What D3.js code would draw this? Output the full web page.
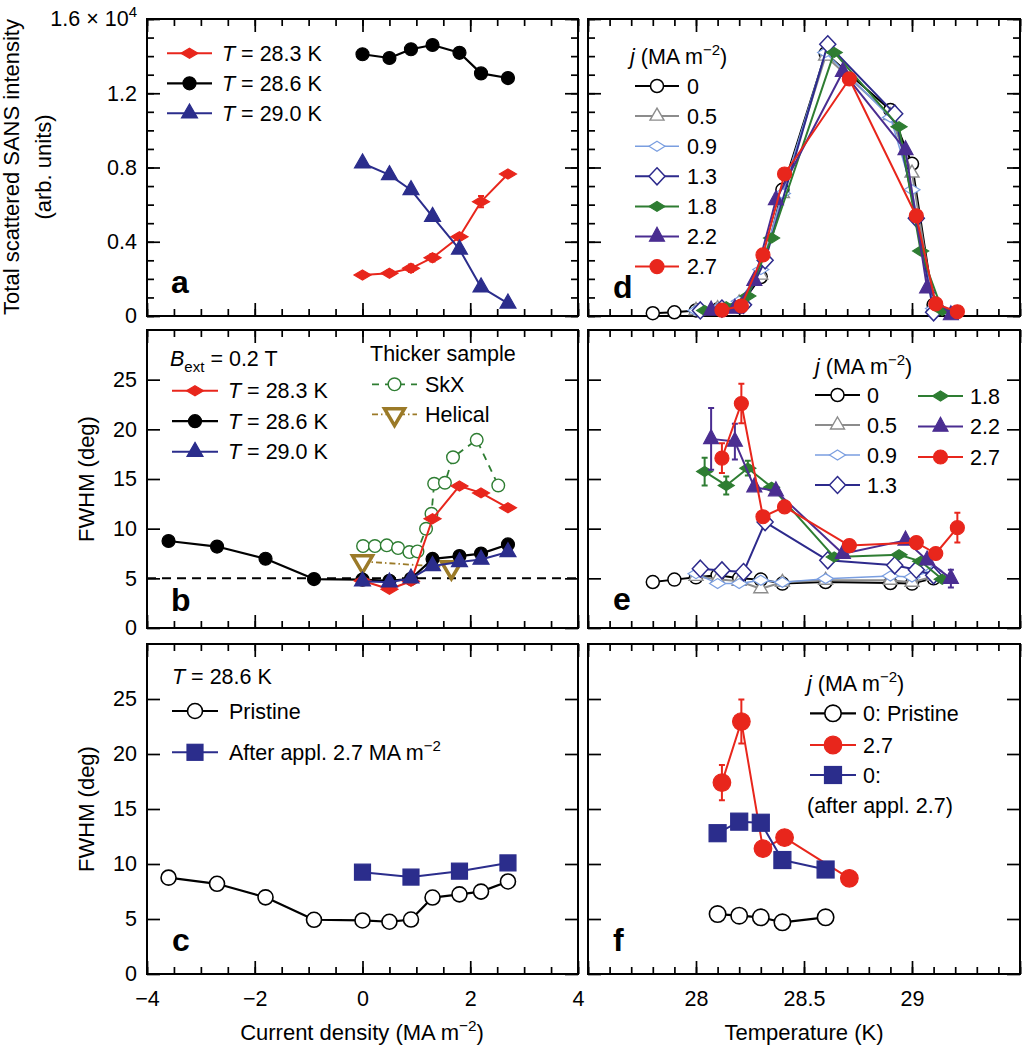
<!DOCTYPE html>
<html><head><meta charset="utf-8">
<script src="https://cdn.jsdelivr.net/npm/d3@7"></script>
<style>
body{margin:0;background:#fff;}
svg{font-family:"Liberation Sans", Arial, Helvetica, sans-serif;}
</style></head><body>
<svg id="chart" width="1022" height="1050"></svg>
<script>
// ================= DATA =================
// Panel a: total scattered SANS intensity (x 10^4) vs current density
const jA = [0, 0.5, 0.9, 1.3, 1.8, 2.2, 2.7];
const int283 = [0.221, 0.230, 0.257, 0.314, 0.427, 0.616, 0.765];
const int283Err = [0.01, 0.015, 0.02, 0.02, 0.015, 0.03, 0.01];
const int286 = [1.41, 1.39, 1.437, 1.46, 1.418, 1.307, 1.282];
const int290 = [0.823, 0.760, 0.679, 0.535, 0.359, 0.155, 0.068];

// Panel b: FWHM vs current density
const jB286 = [-3.6, -2.7, -1.8, -0.9, 0, 0.5, 0.9, 1.3, 1.8, 2.2, 2.7];
const fwhm286 = [8.76, 8.2, 6.97, 4.93, 4.87, 4.75, 4.95, 6.95, 7.24, 7.49, 8.41];
const fwhm283 = [4.75, 3.9, 4.7, 11.0, 14.3, 13.6, 12.1];
const fwhm290 = [4.7, 4.6, 5.0, 6.25, 6.65, 6.9, 7.65];
const jSkX = [0.01, 0.23, 0.45, 0.66, 0.87, 1.02, 1.18, 1.28, 1.33, 1.53, 1.68, 2.12, 2.52];
const fwhmSkX = [8.25, 8.25, 8.32, 8.05, 7.64, 7.71, 9.99, 11.5, 14.52, 14.62, 17.19, 18.94, 14.35];
const jHelical = [0, 1.65];
const fwhmHelical = [6.7, 6.1];
const fwhmRef = 5;

// Panel c
const jAfter = [0, 0.9, 1.8, 2.7];
const fwhmAfter = [9.26, 8.81, 9.35, 10.1];

// Panels d, e: per current density j (MA m^-2)
const tJ0 = [27.8, 27.9, 28.0, 28.1, 28.2, 28.3, 28.4, 28.6, 28.9, 29.0, 29.1];
const intJ0 = [0.015, 0.02, 0.03, 0.035, 0.05, 0.21, 0.68, 1.415, 1.11, 0.82, 0.06];
const fwhmJ0 = [4.63, 4.87, 5.1, 5.3, 5.0, 4.87, 4.47, 4.63, 4.53, 4.47, 5.0];

const tJ05 = [28.0, 28.1, 28.2, 28.3, 28.4, 28.6, 28.9, 29.0, 29.1];
const intJ05 = [0.03, 0.04, 0.07, 0.22, 0.66, 1.40, 1.08, 0.77, 0.05];
const fwhmJ05 = [5.2, 4.9, 4.7, 3.95, 4.6, 4.8, 4.8, 4.6, 5.2];

const tJ09 = [28.0, 28.1, 28.2, 28.3, 28.4, 28.6, 28.9, 29.0, 29.1];
const intJ09 = [0.03, 0.04, 0.08, 0.25, 0.66, 1.42, 1.07, 0.68, 0.04];
const fwhmJ09 = [5.47, 4.47, 4.47, 4.8, 4.6, 4.97, 5.23, 5.13, 5.8];

const tJ13 = [28.02, 28.12, 28.22, 28.32, 28.61, 28.92, 29.02, 29.1];
const intJ13 = [0.03, 0.04, 0.06, 0.30, 1.464, 1.09, 0.526, 0.02];
const fwhmJ13 = [5.97, 5.80, 5.63, 10.66, 6.81, 6.31, 5.87, 5.3];

const tJ18 = [28.04, 28.14, 28.24, 28.35, 28.64, 28.94, 29.04, 29.14];
const intJ18 = [0.03, 0.05, 0.108, 0.42, 1.42, 1.02, 0.35, 0.03];
const fwhmJ18 = [15.75, 14.35, 16.09, 14.18, 7.14, 7.38, 6.71, 4.9];
const fwhmJ18Err = [1.4, 0.9, 0.75, 0, 0, 0, 0, 0];

const tJ22 = [28.07, 28.18, 28.27, 28.37, 28.68, 28.97, 29.07, 29.18];
const intJ22 = [0.03, 0.04, 0.19, 0.625, 1.316, 0.894, 0.149, 0.005];
const fwhmJ22 = [19.04, 18.77, 14.18, 13.78, 7.48, 8.82, 6.81, 4.97];
const fwhmJ22Err = [3.1, 1.8, 0, 0, 0, 0, 0, 0.9];

const tJ27 = [28.12, 28.21, 28.31, 28.41, 28.71, 29.02, 29.11, 29.21];
const intJ27 = [0.032, 0.054, 0.329, 0.765, 1.277, 0.539, 0.065, 0.023];
const fwhmJ27 = [17.1, 22.6, 11.2, 12.2, 8.3, 8.6, 7.5, 10.1];
const fwhmJ27Err = [1.5, 2.0, 0, 0, 0, 0, 0, 1.5];

// Panel f
const tF0 = [28.1, 28.2, 28.3, 28.4, 28.6];
const fwhmF0 = [5.45, 5.3, 5.15, 4.7, 5.15];
const tF27 = [28.12, 28.21, 28.31, 28.41, 28.71];
const fwhmF27 = [17.4, 22.95, 11.4, 12.4, 8.7];
const fwhmF27Err = [1.6, 2.0, 0, 0, 0];
const tFAfter = [28.1, 28.2, 28.3, 28.4, 28.6];
const fwhmFAfter = [12.8, 13.85, 13.75, 10.36, 9.5];
const fwhmFAfterErr = [0.6, 0, 0, 0, 0];

// Ticks
const xJMajor = [-4, -2, 0, 2, 4];
const xTMajor = [27.5, 28, 28.5, 29, 29.5];
const xTLabeled = [28, 28.5, 29];
const yAMajor = [0, 0.4, 0.8, 1.2, 1.6];
const yFMajor = [0, 5, 10, 15, 20, 25];
const jLegend = ["0", "0.5", "0.9", "1.3", "1.8", "2.2", "2.7"];
const tempLegend = ["28.3", "28.6", "29.0"];

// ================= LAYOUT =================
const FONT = '"Liberation Sans", Arial, Helvetica, sans-serif';
const TICKFS = 21.5, LEGFS = 21.5, TITLEFS = 22;
const svg = d3.select("#chart");
const xJ = d3.scaleLinear().domain([-4, 4]).range([147, 578]);
const xT = d3.scaleLinear().domain([27.5, 29.5]).range([588, 1020]);
const yA = d3.scaleLinear().domain([0, 1.6]).range([316, 19]);
const yB = d3.scaleLinear().domain([0, 30]).range([628, 330]);
const yC = d3.scaleLinear().domain([0, 30]).range([974, 644]);

const C = {red: "#e8261c", black: "#000", navy: "#2b2d8c", purple: "#4a2d91", green: "#2e7d32",
  gray: "#8c8c8c", lblue: "#7a9ee0", brown: "#9b7a28", nav13: "#2d2a8c"};

const fmtNum = d3.format("");

function rich(t, segs, fs) {
  let shift = 0;
  segs.forEach(s => {
    const target = s.sup ? -0.42 * fs : s.sub ? 0.3 * fs : 0;
    const ts = t.append("tspan").text(s.t);
    if (target !== shift) { ts.attr("dy", target - shift); shift = target; }
    if (s.sup || s.sub) ts.attr("font-size", fs * 0.7);
    if (s.i) ts.attr("font-style", "italic");
  });
  return t;
}

function frame(x, y, o) {
  const g = svg.append("g");
  const [xa, xb] = x.range(), [yb, ya] = y.range();
  const style = sel => {
    sel.select(".domain").remove();
    sel.selectAll("line").attr("stroke", "#000").attr("stroke-width", 1.7);
    sel.attr("font-family", FONT).attr("font-size", TICKFS);
    sel.selectAll("text").attr("fill", "#000");
  };
  const mk = (axis, tr) => g.append("g").attr("transform", tr).call(axis).call(style);
  mk(d3.axisBottom(x).tickValues(o.xMinor).tickSizeInner(-7).tickSizeOuter(0).tickFormat(""), `translate(0,${yb})`);
  mk(d3.axisTop(x).tickValues(o.xMinor).tickSizeInner(-7).tickSizeOuter(0).tickFormat(""), `translate(0,${ya})`);
  mk(d3.axisBottom(x).tickValues(o.xMajor).tickSizeInner(-13).tickSizeOuter(0).tickPadding(17)
    .tickFormat(o.xFmt || ""), `translate(0,${yb})`);
  mk(d3.axisTop(x).tickValues(o.xMajor).tickSizeInner(-13).tickSizeOuter(0).tickFormat(""), `translate(0,${ya})`);
  if (o.yMinor) {
    mk(d3.axisLeft(y).tickValues(o.yMinor).tickSizeInner(-7).tickSizeOuter(0).tickFormat(""), `translate(${xa},0)`);
    mk(d3.axisRight(y).tickValues(o.yMinor).tickSizeInner(-7).tickSizeOuter(0).tickFormat(""), `translate(${xb},0)`);
  }
  const yl = mk(d3.axisLeft(y).tickValues(o.yMajor).tickSizeInner(-13).tickSizeOuter(0).tickPadding(10)
    .tickFormat(o.yFmt || ""), `translate(${xa},0)`);
  mk(d3.axisRight(y).tickValues(o.yMajor).tickSizeInner(-13).tickSizeOuter(0).tickFormat(""), `translate(${xb},0)`);
  g.append("rect").attr("x", xa).attr("y", ya).attr("width", xb - xa).attr("height", yb - ya)
    .attr("fill", "none").attr("stroke", "#000").attr("stroke-width", 2);
  return yl;
}

function marker(g, st, cx, cy) {
  const m = st.m;
  const fill = m.fill, stroke = m.stroke || st.color, sw = m.sw || 1.2;
  let el;
  if (m.shape === "circle") {
    el = g.append("circle").attr("cx", cx).attr("cy", cy).attr("r", m.r);
  } else if (m.shape === "square") {
    el = g.append("rect").attr("x", cx - m.w / 2).attr("y", cy - m.w / 2).attr("width", m.w).attr("height", m.w);
  } else {
    let d;
    const w = m.w, h = m.h;
    if (m.shape === "diamond") d = `M${cx},${cy - h / 2}L${cx + w / 2},${cy}L${cx},${cy + h / 2}L${cx - w / 2},${cy}Z`;
    else if (m.shape === "tri") d = `M${cx},${cy - 2 * h / 3}L${cx + w / 2},${cy + h / 3}L${cx - w / 2},${cy + h / 3}Z`;
    else d = `M${cx},${cy + 2 * h / 3}L${cx + w / 2},${cy - h / 3}L${cx - w / 2},${cy - h / 3}Z`;
    el = g.append("path").attr("d", d);
  }
  el.attr("fill", fill).attr("stroke", stroke).attr("stroke-width", sw).attr("stroke-linejoin", "miter");
}

function series(x, y, xs, ys, st, errs) {
  const g = svg.append("g");
  const pts = xs.map((v, i) => ({x: v, y: ys[i], e: errs ? errs[i] : 0}));
  g.append("path").datum(pts).attr("d", d3.line().x(d => x(d.x)).y(d => y(d.y)))
    .attr("fill", "none").attr("stroke", st.color).attr("stroke-width", st.lw || 2)
    .attr("stroke-dasharray", st.dash || null).attr("stroke-linejoin", "round");
  pts.filter(d => d.e > 0).forEach(d => {
    const cx = x(d.x), y1 = y(d.y + d.e), y2 = y(d.y - d.e);
    g.append("path").attr("d", `M${cx},${y1}V${y2}M${cx - 3},${y1}H${cx + 3}M${cx - 3},${y2}H${cx + 3}`)
      .attr("stroke", st.color).attr("stroke-width", 2).attr("fill", "none");
  });
  pts.forEach(d => marker(g, st, x(d.x), y(d.y)));
}

function legendRow(x1, x2, yc, tx, st, segs) {
  const g = svg.append("g");
  g.append("line").attr("x1", x1).attr("x2", x2).attr("y1", yc).attr("y2", yc)
    .attr("stroke", st.color).attr("stroke-width", st.lw || 2).attr("stroke-dasharray", st.dash || null);
  marker(g, st, (x1 + x2) / 2, yc);
  const t = g.append("text").attr("x", tx).attr("y", yc + 7.7).attr("font-size", LEGFS).attr("fill", "#000");
  rich(t, segs, LEGFS);
}

function label(x, y, segs, fs, extra) {
  const t = svg.append("text").attr("x", x).attr("y", y).attr("font-size", fs).attr("fill", "#000");
  if (extra) extra(t);
  return rich(t, segs, fs);
}

// ================= STYLES =================
const sRed283 = {color: C.red, lw: 2, m: {shape: "diamond", w: 17, h: 10, fill: C.red}};
const sBlk286 = {color: C.black, lw: 2.2, m: {shape: "circle", r: 6.5, fill: C.black}};
const sBlu290 = {color: C.navy, lw: 2, m: {shape: "tri", w: 16, h: 14, fill: C.navy}};
const sSkX = {color: C.green, lw: 1.8, dash: "7,6", m: {shape: "circle", r: 6.3, fill: "#fff", sw: 1.4}};
const sHel = {color: C.brown, lw: 1.8, dash: "6,3,1.5,3", m: {shape: "tridown", w: 20, h: 17, fill: "#fff", sw: 3.5}};
const sPrist = {color: C.black, lw: 2.2, m: {shape: "circle", r: 7.5, fill: "#fff", sw: 1.6}};
const sAfter = {color: C.navy, lw: 2, m: {shape: "square", w: 16, fill: C.navy}};
const sJ = [
  {color: C.black, lw: 2, m: {shape: "circle", r: 6.5, fill: "#fff", sw: 1.5}},
  {color: C.gray, lw: 2, m: {shape: "tri", w: 14, h: 12, fill: "#fff", sw: 1.4}},
  {color: C.lblue, lw: 1.5, m: {shape: "diamond", w: 16, h: 10, fill: "#fff", sw: 1.2}},
  {color: C.nav13, lw: 2, m: {shape: "diamond", w: 16, h: 17, fill: "#fff", sw: 1.5}},
  {color: C.green, lw: 2, m: {shape: "diamond", w: 16, h: 10, fill: C.green}},
  {color: C.purple, lw: 2, m: {shape: "tri", w: 15, h: 14, fill: C.purple}},
  {color: C.red, lw: 2, m: {shape: "circle", r: 7, fill: C.red, stroke: C.red}}
];
const sF0 = {color: C.black, lw: 2.2, m: {shape: "circle", r: 8.2, fill: "#fff", sw: 1.6}};
const sF27 = {color: C.red, lw: 2, m: {shape: "circle", r: 8.8, fill: C.red}};
const sFAfter = {color: C.navy, lw: 2, m: {shape: "square", w: 17, fill: C.navy}};

// ================= FRAMES =================
const xJMinor = d3.range(-4, 4.01, 0.5);
const xTMinor = d3.range(0, 21).map(i => 27.5 + i * 0.1);
const yAMinor = d3.range(0, 17).map(i => i * 0.1);
const jFmt = d => fmtNum(d);
const tFmt = d => xTLabeled.includes(d) ? fmtNum(d) : "";

const ayl = frame(xJ, yA, {xMajor: xJMajor, xMinor: xJMinor, yMajor: yAMajor, yMinor: yAMinor,
  yFmt: d => d === 0 ? "0" : d3.format(".1f")(d)});
ayl.selectAll(".tick text").filter(d => d === 1.6).each(function () {
  const t = d3.select(this).text(null);
  rich(t, [{t: "1.6 × 10"}, {t: "4", sup: true}], TICKFS);
});
frame(xJ, yB, {xMajor: xJMajor, xMinor: xJMinor, yMajor: yFMajor, yFmt: d => fmtNum(d)});
frame(xJ, yC, {xMajor: xJMajor, xMinor: xJMinor, yMajor: yFMajor, yFmt: d => fmtNum(d), xFmt: jFmt});
frame(xT, yA, {xMajor: xTMajor, xMinor: xTMinor, yMajor: yAMajor, yMinor: yAMinor});
frame(xT, yB, {xMajor: xTMajor, xMinor: xTMinor, yMajor: yFMajor});
frame(xT, yC, {xMajor: xTMajor, xMinor: xTMinor, yMajor: yFMajor, xFmt: tFmt});

// ================= PANEL a =================
series(xJ, yA, jA, int283, sRed283, int283Err);
series(xJ, yA, jA, int286, sBlk286);
series(xJ, yA, jA, int290, sBlu290);
[sRed283, sBlk286, sBlu290].forEach((st, i) =>
  legendRow(167, 212, 53.3 + 30 * i, 222, st, [{t: "T", i: true}, {t: " = " + tempLegend[i] + " K"}]));

// ================= PANEL b =================
svg.append("line").attr("x1", xJ(-4)).attr("x2", xJ(4)).attr("y1", yB(fwhmRef)).attr("y2", yB(fwhmRef))
  .attr("stroke", "#000").attr("stroke-width", 2).attr("stroke-dasharray", "9,6");
series(xJ, yB, jSkX, fwhmSkX, sSkX);
series(xJ, yB, jHelical, fwhmHelical, sHel);
series(xJ, yB, jB286, fwhm286, sBlk286);
series(xJ, yB, jA, fwhm283, sRed283);
series(xJ, yB, jA, fwhm290, sBlu290);
label(170, 366, [{t: "B", i: true}, {t: "ext", sub: true}, {t: " = 0.2 T"}], LEGFS);
[sRed283, sBlk286, sBlu290].forEach((st, i) =>
  legendRow(172, 218, 390.7 + 30.5 * i, 228, st, [{t: "T", i: true}, {t: " = " + tempLegend[i] + " K"}]));
label(370, 361, [{t: "Thicker sample"}], LEGFS);
legendRow(372, 417, 384.3, 425, sSkX, [{t: "SkX"}]);
legendRow(372, 417, 414.3, 425, sHel, [{t: "Helical"}]);

// ================= PANEL c =================
series(xJ, yC, jB286, fwhm286, sPrist);
series(xJ, yC, jAfter, fwhmAfter, sAfter);
label(172, 684.4, [{t: "T", i: true}, {t: " = 28.6 K"}], LEGFS);
legendRow(172, 218, 711, 229, sPrist, [{t: "Pristine"}]);
legendRow(172, 218, 752.3, 229, sAfter, [{t: "After appl. 2.7 MA m"}, {t: "−2", sup: true}]);

// ================= PANEL d =================
const tJ = [tJ0, tJ05, tJ09, tJ13, tJ18, tJ22, tJ27];
const intJ = [intJ0, intJ05, intJ09, intJ13, intJ18, intJ22, intJ27];
const fwhmJ = [fwhmJ0, fwhmJ05, fwhmJ09, fwhmJ13, fwhmJ18, fwhmJ22, fwhmJ27];
const fwhmJErr = [null, null, null, null, fwhmJ18Err, fwhmJ22Err, fwhmJ27Err];
tJ.forEach((ts, k) => series(xT, yA, ts, intJ[k], sJ[k]));
label(630, 64.4, [{t: "j", i: true}, {t: " (MA m"}, {t: "−2", sup: true}, {t: ")"}], LEGFS);
sJ.forEach((st, k) => legendRow(635, 679, 86 + 30.1 * k, 687, st, [{t: jLegend[k]}]));

// ================= PANEL e =================
tJ.forEach((ts, k) => series(xT, yB, ts, fwhmJ[k], sJ[k], fwhmJErr[k]));
label(815, 374.4, [{t: "j", i: true}, {t: " (MA m"}, {t: "−2", sup: true}, {t: ")"}], LEGFS);
sJ.forEach((st, k) => {
  if (k < 4) legendRow(815, 860, 395 + 30 * k, 867, st, [{t: jLegend[k]}]);
  else legendRow(918, 963, 396 + 30.5 * (k - 4), 970, st, [{t: jLegend[k]}]);
});

// ================= PANEL f =================
series(xT, yC, tF0, fwhmF0, sF0);
series(xT, yC, tF27, fwhmF27, sF27, fwhmF27Err);
series(xT, yC, tFAfter, fwhmFAfter, sFAfter, fwhmFAfterErr);
label(807, 690.7, [{t: "j", i: true}, {t: " (MA m"}, {t: "−2", sup: true}, {t: ")"}], LEGFS);
legendRow(810, 856, 713.3, 863, sF0, [{t: "0: Pristine"}]);
legendRow(810, 856, 745, 863, sF27, [{t: "2.7"}]);
legendRow(810, 856, 775, 863, sFAfter, [{t: "0:"}]);
label(807, 812.7, [{t: "(after appl. 2.7)"}], LEGFS);

// ================= PANEL LETTERS =================
[["a", 171, 293], ["b", 171, 611], ["c", 172, 951], ["d", 613, 298], ["e", 613, 610], ["f", 613, 951]]
  .forEach(([s, x, y]) => svg.append("text").attr("x", x).attr("y", y).attr("font-size", 32)
    .attr("font-weight", "bold").attr("fill", "#000").text(s));

// ================= AXIS TITLES =================
const rot = (x, y) => t => t.attr("transform", `rotate(-90,${x},${y})`).attr("text-anchor", "middle");
label(19, 167, [{t: "Total scattered SANS intensity"}], TITLEFS, rot(19, 167));
label(51, 167, [{t: "(arb. units)"}], TITLEFS, rot(51, 167));
label(94, 479, [{t: "FWHM (deg)"}], TITLEFS, rot(94, 479));
label(94, 809, [{t: "FWHM (deg)"}], TITLEFS, rot(94, 809));
label(362, 1040, [{t: "Current density (MA m"}, {t: "−2", sup: true}, {t: ")"}], TITLEFS, t => t.attr("text-anchor", "middle"));
label(804, 1040, [{t: "Temperature (K)"}], TITLEFS, t => t.attr("text-anchor", "middle"));
</script>
</body></html>
